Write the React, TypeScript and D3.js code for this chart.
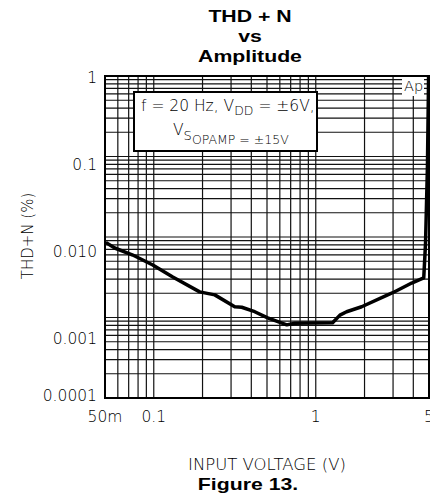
import React from "react";
import * as d3 from "d3";

// ---- data ----
const inputVoltage = [
  0.0506, 0.0574, 0.0742, 0.0986, 0.131, 0.192, 0.238, 0.316, 0.349, 0.42, 0.505,
  0.662, 0.742, 1.27, 1.41, 1.55, 1.92, 2.78, 3.07, 3.91, 4.64, 4.76, 4.89, 4.95, 4.97,
];
const thdN = [
  0.00855, 0.0073, 0.00597, 0.00449, 0.00318, 0.00208, 0.00191, 0.00136, 0.00134,
  0.00118, 0.00099, 0.00081, 0.00085, 0.00086, 0.00107, 0.00118, 0.00136, 0.00191,
  0.00209, 0.00268, 0.0031, 0.0084, 0.075, 0.5, 1,
];
const xTickValues = [0.05, 0.1, 1, 5];
const xTickLabels = ["50m", "0.1", "1", "5"];
const yTickValues = [1, 0.1, 0.01, 0.001, 0.0001];
const yTickLabels = ["1", "0.1", "0.010", "0.001", "0.0001"];
const titleLines = ["THD + N", "vs", "Amplitude"];

const W = 430;
const H = 501;
const L = 105, R = 429, T = 76, B = 398;

export default function App() {
  const x = d3.scaleLog().domain([0.05, 5]).range([L, R]);
  const y = d3.scaleLog().domain([0.0001, 1]).range([B, T]);
  const yLab = d3.scaleLog().domain([1, 0.001]).range([77, 338]);
  const xGrid = x.ticks();
  const yGrid = y.ticks();
  const pts: [number, number][] = inputVoltage.map((v, i) => [v, thdN[i]]);
  const line = d3
    .line<[number, number]>()
    .x((d) => x(d[0]))
    .y((d) => y(d[1]));

  const sans = "'DejaVu Sans', sans-serif";
  const bold = "'Liberation Sans', Arial, sans-serif";
  const lw = 300;

  return (
    <svg
      width={W}
      height={H}
      style={{ position: "absolute", left: 0, top: 0, background: "#fff" }}
    >
      <rect x={0} y={0} width={W} height={H} fill="#fff" />
      <defs>
        <clipPath id="plot">
          <rect x={L} y={T} width={R - L} height={B - T} />
        </clipPath>
      </defs>
      {/* title */}
      {titleLines.map((t, i) => (
        <g key={t} transform={`translate(250,${22 + i * 20}) scale(1.25,1)`}>
          <text textAnchor="middle" fontFamily={bold} fontWeight="bold" fontSize={17}>
            {t}
          </text>
        </g>
      ))}
      {/* grid */}
      <g stroke="#111" strokeWidth={1.2}>
        {xGrid.map((v) => (
          <line key={"x" + v} x1={x(v)} x2={x(v)} y1={T} y2={B} />
        ))}
        {yGrid.map((v) => (
          <line key={"y" + v} x1={L} x2={R} y1={y(v)} y2={y(v)} />
        ))}
      </g>
      <rect x={L} y={T} width={R - L} height={B - T} fill="none" stroke="#000" strokeWidth={2} />
      {/* legend box */}
      <rect x={134} y={92} width={183} height={59} fill="#fff" stroke="#000" strokeWidth={2} />
      <text x={141} y={111} fontFamily={sans} fontWeight={lw} fontSize={15.5} fill="#000">
        f = 20 Hz, V
        <tspan fontSize={12.5} dy={4}>DD</tspan>
        <tspan dy={-4}> = ±6V,</tspan>
      </text>
      <text x={173} y={135} fontFamily={sans} fontWeight={lw} fontSize={15.5} fill="#000">
        V
        <tspan fontSize={13} dy={5}>S</tspan>
        <tspan fontSize={12.5} dy={4}>OPAMP = ±15V</tspan>
      </text>
      {/* Ap box */}
      <rect x={402} y={77} width={22} height={19} fill="#fff" />
      <text x={404} y={91} fontFamily={sans} fontWeight={lw} fontSize={14.5} fill="#000">
        Ap
      </text>
      {/* curve */}
      <path
        d={line(pts) || ""}
        fill="none"
        stroke="#000"
        strokeWidth={3.5}
        strokeLinejoin="round"
        clipPath="url(#plot)"
      />
      {/* y tick labels */}
      {yTickValues.map((v, i) => (
        <text
          key={"yl" + v}
          x={97}
          y={Math.min(yLab(v), y(0.0001) - 3)}
          dy="0.36em"
          textAnchor="end"
          fontFamily={sans}
          fontWeight={lw}
          fontSize={15.5}
          fill="#000"
        >
          {yTickLabels[i]}
        </text>
      ))}
      {/* x tick labels */}
      {xTickValues.map((v, i) => (
        <text
          key={"xl" + v}
          x={x(v)}
          y={422}
          textAnchor="middle"
          fontFamily={sans}
          fontWeight={lw}
          fontSize={15.5}
          fill="#000"
        >
          {xTickLabels[i]}
        </text>
      ))}
      {/* axis titles */}
      <text
        transform="translate(33,236) rotate(-90)"
        textAnchor="middle"
        fontFamily={sans}
        fontWeight={lw}
        fontSize={15}
        fill="#000"
      >
        {"THD+N\u00a0(%)"}
      </text>
      <text x={267} y={470} textAnchor="middle" fontFamily={sans} fontWeight={lw} fontSize={16.5} fill="#000">
        INPUT VOLTAGE (V)
      </text>
      <g transform="translate(248,490) scale(1.25,1)">
        <text textAnchor="middle" fontFamily={bold} fontWeight="bold" fontSize={17}>
          Figure 13.
        </text>
      </g>
    </svg>
  );
}
